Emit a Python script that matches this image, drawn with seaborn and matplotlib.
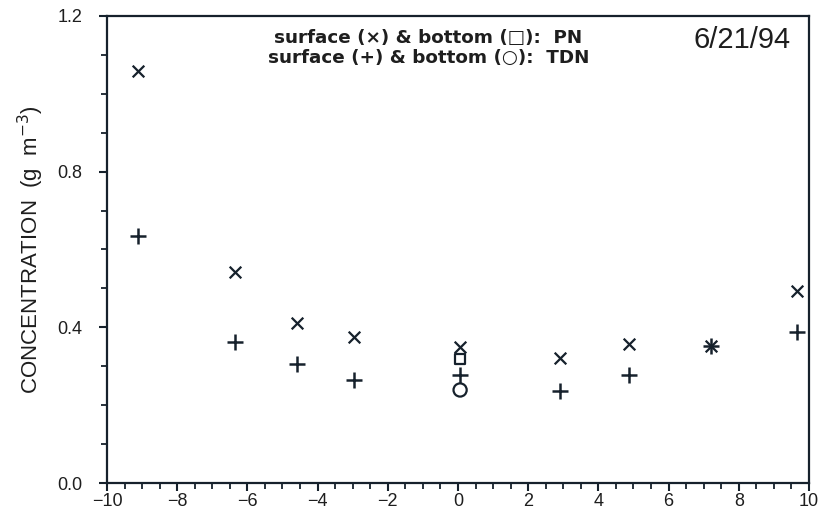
import numpy as np
import pandas as pd
import matplotlib
matplotlib.use("Agg")
import matplotlib.pyplot as plt
import seaborn as sns
from matplotlib.ticker import MultipleLocator, FixedLocator

# ---- data ----
stations_x = [-9.12, -6.35, -4.6, -2.95, 0.06, 2.9, 4.88, 7.2, 9.67]
surface_pn = [1.059, 0.543, 0.412, 0.376, 0.350, 0.320, 0.357, 0.353, 0.494]
surface_tdn = [0.635, 0.363, 0.305, 0.265, 0.277, 0.236, 0.277, 0.353, 0.389]
bottom_x = [0.06]
bottom_pn = [0.318]
bottom_tdn = [0.239]
yticks = [0.0, 0.4, 0.8, 1.2]
ytick_labels = ["0.0", "0.4", "0.8", "1.2"]
xticks = [-10, -8, -6, -4, -2, 0, 2, 4, 6, 8, 10]

sns.set_style("ticks")
plt.rcParams["font.family"] = ["Liberation Sans", "DejaVu Sans"]

ink = "#16212c"
txt = "#1e1e1e"

fig = plt.figure(figsize=(8.34, 5.14), dpi=100)
ax = fig.add_axes([0.1283, 0.0603, 0.8417, 0.9086])

df_s_pn = pd.DataFrame({"x": stations_x, "y": surface_pn})
df_s_tdn = pd.DataFrame({"x": stations_x, "y": surface_tdn})
df_b_pn = pd.DataFrame({"x": bottom_x, "y": bottom_pn})
df_b_tdn = pd.DataFrame({"x": bottom_x, "y": bottom_tdn})

sns.scatterplot(data=df_s_pn, x="x", y="y", marker="x", s=70, color=ink,
                linewidth=1.6, ax=ax)
sns.scatterplot(data=df_s_tdn, x="x", y="y", marker="+", s=120, color=ink,
                linewidth=1.8, ax=ax)
sns.scatterplot(data=df_b_pn, x="x", y="y", marker="s", s=55, facecolor="none",
                edgecolor=ink, linewidth=1.6, ax=ax)
sns.scatterplot(data=df_b_tdn, x="x", y="y", marker="o", s=90, facecolor="none",
                edgecolor=ink, linewidth=1.6, ax=ax)

ax.set_xlim(-10, 10)
ax.set_ylim(0, 1.2)
ax.xaxis.set_major_locator(FixedLocator(xticks))
ax.xaxis.set_minor_locator(MultipleLocator(0.5))
ax.yaxis.set_major_locator(FixedLocator(yticks))
ax.yaxis.set_minor_locator(MultipleLocator(0.1))
ax.set_yticklabels(ytick_labels)
ax.set_xticklabels([str(t).replace("-", "\u2212") for t in xticks])

for sp in ax.spines.values():
    sp.set_visible(True)
    sp.set_linewidth(1.6)
    sp.set_color(ink)

ax.tick_params(axis="both", which="major", direction="out", length=6, width=1.5,
               colors=ink, labelsize=13, labelcolor=txt)
ax.tick_params(axis="both", which="minor", direction="out", length=4, width=1.3,
               colors=ink)
ax.tick_params(axis="x", pad=1)
ax.tick_params(axis="y", pad=12)

ax.set_xlabel("")
ax.set_ylabel("CONCENTRATION  (g  m$^{-3}$)", fontsize=16, color=txt,
              labelpad=8)

ax.text(0.905, 0.948, "6/21/94", transform=ax.transAxes, ha="center", va="center",
        fontsize=21, color=txt)
ax.text(0.458, 0.953, "surface (\u00d7) & bottom (\u25a1):  PN",
        transform=ax.transAxes, ha="center", va="center", fontsize=13.2,
        color=txt, family=["DejaVu Sans"], fontweight="semibold")
ax.text(0.458, 0.910, "surface (+) & bottom (\u25cb):  TDN",
        transform=ax.transAxes, ha="center", va="center", fontsize=13.2,
        color=txt, family=["DejaVu Sans"], fontweight="semibold")

fig.savefig("out.png", dpi=100, facecolor="white")
